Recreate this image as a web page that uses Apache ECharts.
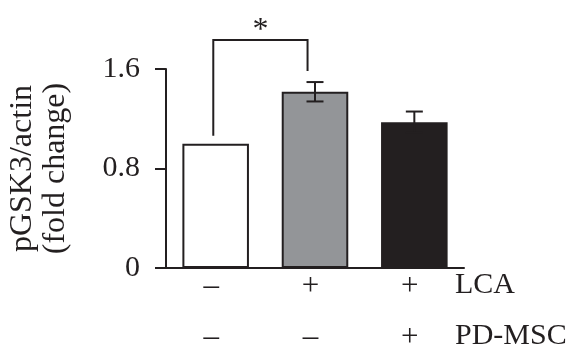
<!DOCTYPE html>
<html>
<head>
<meta charset="utf-8">
<script src="https://cdn.jsdelivr.net/npm/echarts@6/dist/echarts.min.js"></script>
<style>
html,body{margin:0;padding:0;background:#fff;}
#chart{width:579px;height:362px;}
</style>
</head>
<body>
<div id="chart"></div>
<script>
// ---- data ----
const categories = ['Control', 'LCA', 'LCA + PD-MSC'];
const lcaSigns = ['\u2013', '+', '+'];
const mscSigns = ['\u2013', '\u2013', '+'];
const values = [1.0, 1.417, 1.172];
const errors = [0, 0.078, 0.086];
const yTicks = [0, 0.8, 1.6];
const rowNames = ['LCA', 'PD-MSC'];
// significance bracket: [fromIndex, toIndex, topValue, leftFootValue, rightFootValue]
const sigBrackets = [[0, 1, 1.834, 1.064, 1.584]];
const sigLabels = ['*'];

const FONT = "'Liberation Serif', 'Times New Roman', Times, serif";
const INK = '#231f20';
const barFills = ['#ffffff', '#939598', '#231f20'];

const chart = echarts.init(document.getElementById('chart'));

const option = {
  animation: false,
  backgroundColor: '#fff',
  grid: { left: 166, right: 115, top: 69, bottom: 94, containLabel: false, outerBoundsMode: 'none' },
  xAxis: {
    type: 'category',
    data: categories,
    axisLine: { show: true, lineStyle: { color: INK, width: 2 } },
    axisTick: { show: false },
    axisLabel: {
      interval: 0,
      fontFamily: FONT,
      fontSize: 31,
      color: INK,
      lineHeight: 51,
      margin: -7,
      padding: [0, 9, 0, 0],
      formatter: function (v, i) { return lcaSigns[i] + '\n' + mscSigns[i]; }
    }
  },
  yAxis: {
    type: 'value',
    min: 0,
    max: 1.6,
    interval: 0.8,
    name: 'pGSK3/actin\n(fold change)',
    nameLocation: 'middle',
    nameGap: 94,
    nameTextStyle: { fontFamily: FONT, fontSize: 32, color: INK, lineHeight: 33 },
    axisLine: { show: true, lineStyle: { color: INK, width: 2 } },
    axisTick: { show: true, length: 11, lineStyle: { color: INK, width: 2 } },
    splitLine: { show: false },
    axisLabel: {
      fontFamily: FONT,
      fontSize: 30,
      color: INK,
      margin: 26,
      formatter: function (v) {
        const t = yTicks.find(function (x) { return Math.abs(x - v) < 1e-6; });
        return t === 0 ? '0' : String(t);
      }
    }
  },
  graphic: rowNames.map(function (n, i) {
    return {
      type: 'text',
      left: 455,
      top: 270 + i * 51,
      style: { text: n, fontFamily: FONT, fontSize: 30, fill: INK }
    };
  }),
  series: [
    {
      type: 'bar',
      barWidth: '67%',
      z: 2,
      data: values.map(function (v, i) {
        return { value: v, itemStyle: { color: barFills[i], borderColor: INK, borderWidth: 2 } };
      })
    },
    {
      type: 'custom',
      z: 3,
      data: values.map(function (v, i) { return [i, v, errors[i]]; }),
      renderItem: function (params, api) {
        const i = api.value(0), v = api.value(1), e = api.value(2);
        if (!e) return null;
        const top = api.coord([i, v + e]);
        const bot = api.coord([i, v - e]);
        const cap = 8.5;
        const st = { stroke: INK, lineWidth: 2, fill: null };
        return {
          type: 'group',
          children: [
            { type: 'line', shape: { x1: top[0], y1: top[1], x2: bot[0], y2: bot[1] }, style: st },
            { type: 'line', shape: { x1: top[0] - cap, y1: top[1], x2: top[0] + cap, y2: top[1] }, style: st },
            { type: 'line', shape: { x1: bot[0] - cap, y1: bot[1], x2: bot[0] + cap, y2: bot[1] }, style: st }
          ]
        };
      }
    },
    {
      type: 'custom',
      z: 4,
      data: sigBrackets,
      renderItem: function (params, api) {
        const a = api.value(0), b = api.value(1);
        const yt = api.value(2), yl = api.value(3), yr = api.value(4);
        const w = api.size([1, 0])[0];
        const pA = api.coord([a, yt]);
        const pB = api.coord([b, yt]);
        const xl = pA[0] - 0.024 * w;
        const xr = pB[0] - 0.075 * w;
        const yTop = pA[1];
        const yL = api.coord([a, yl])[1];
        const yR = api.coord([b, yr])[1];
        const st = { stroke: INK, lineWidth: 2, fill: null };
        return {
          type: 'group',
          children: [
            { type: 'polyline', shape: { points: [[xl, yL], [xl, yTop], [xr, yTop], [xr, yR]] }, style: st },
            { type: 'text', x: (xl + xr) / 2, y: yTop + 7,
              style: { text: sigLabels[params.dataIndex], fontFamily: FONT, fontSize: 32, fill: INK,
                       align: 'center', verticalAlign: 'bottom' } }
          ]
        };
      }
    }
  ]
};
chart.setOption(option);
</script>
</body>
</html>
